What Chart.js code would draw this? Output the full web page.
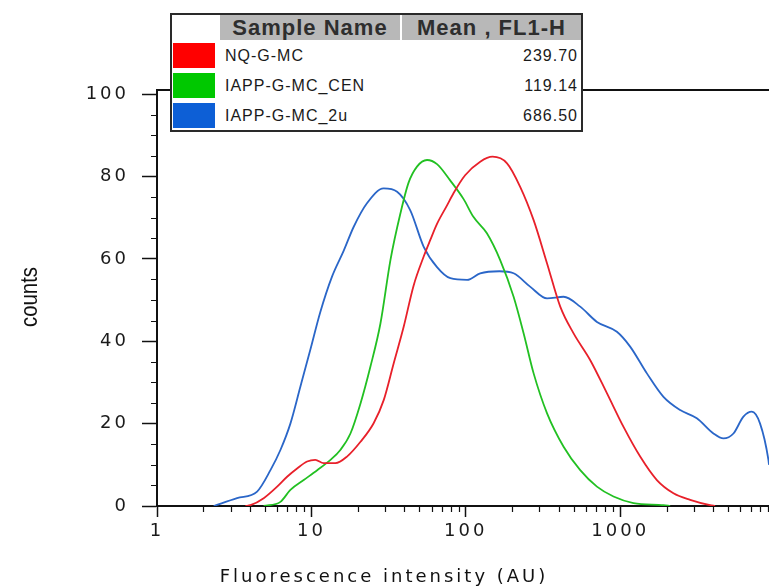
<!DOCTYPE html>
<html>
<head>
<meta charset="utf-8">
<script src="https://cdn.jsdelivr.net/npm/chart.js@4"></script>
<style>
  body { margin: 0; background: #fff; }
  #wrap { position: relative; width: 769px; height: 588px; }
  #legendBox { position: absolute; left: 170px; top: 13px; width: 409px; height: 115px; border: 2px solid #2a2a2a; background: #fff; font-family: 'Liberation Sans', Arial, sans-serif; color: #1a1a1a; }
  .hd { position: absolute; top: 0; height: 25px; line-height: 26px; background: #b8b8b8; font-weight: bold; font-size: 22px; letter-spacing: 1px; text-align: center; color: #2e2e2e; white-space: nowrap; }
  .sw { position: absolute; left: 1px; width: 42px; height: 25px; }
  .nm { position: absolute; left: 53px; height: 25px; line-height: 25px; font-size: 16px; letter-spacing: 1px; white-space: nowrap; }
  .mv { position: absolute; right: 3px; height: 25px; line-height: 25px; font-size: 16px; letter-spacing: 1px; text-align: right; }
</style>
</head>
<body>
<div id="wrap">
  <canvas id="histo" width="769" height="588"></canvas>
  <div id="legendBox"></div>
</div>
<script>
// Muestras y medias (tabla de la leyenda)
const sampleNames = ['NQ-G-MC', 'IAPP-G-MC_CEN', 'IAPP-G-MC_2u'];
const meanFL1H = ['239.70', '119.14', '686.50'];
const sampleColors = ['#ff0000', '#00c800', '#0d5fd6'];
const lineColors = ['#e8202a', '#22c022', '#2a66c8'];

// NQ-G-MC (rojo)
const nqX = [3.74, 4.03, 4.91, 6.00, 6.96, 8.08, 9.38, 10.6, 12.0, 14.3, 17.0, 20.8, 25.3, 29.4, 34.1, 39.6, 45.9, 53.3, 58.9, 65.1, 75.6, 83.4, 99, 124, 149, 185, 225, 275, 336, 409, 499, 640, 820, 1051, 1347, 1728, 2213, 2839, 3824, 4120];
const nqY = [0, 0.2, 1.9, 4.7, 7.1, 9.1, 10.8, 11.2, 10.4, 10.4, 12, 15.6, 20.1, 25.7, 34.6, 43.5, 53.5, 60.5, 64.6, 68.5, 73, 76, 80.3, 83.6, 84.8, 83.2, 77.5, 69.4, 58.9, 48.4, 41.9, 35.4, 27.4, 19.2, 12, 6.3, 3.1, 1.5, 0.2, 0];

// IAPP-G-MC_CEN (verde)
const cenX = [4.91, 6.30, 7.31, 8.92, 10.9, 13.3, 15.4, 17.9, 20.8, 24.1, 28.0, 32.5, 37.7, 42.6, 48.3, 56.1, 65.1, 79.4, 96.8, 112, 137, 167, 204, 237, 275, 336, 430, 551, 707, 905, 1219, 1907, 2107];
const cenY = [0, 1, 3.9, 6.3, 8.7, 11.2, 13.6, 17.6, 24.9, 33.8, 44.3, 59.7, 71, 78.5, 82.4, 84, 83, 79, 74.5, 70.2, 66.2, 59.7, 50.8, 41.9, 32.2, 22.5, 14.4, 8.7, 4.7, 2.3, 0.7, 0.2, 0];

// IAPP-G-MC_2u (azul)
const twoUX = [2.33, 3.30, 4.45, 5.43, 6.30, 7.31, 8.49, 9.85, 11.4, 13.6, 16.2, 18.8, 22.9, 29.4, 35.9, 43.7, 53.3, 65.1, 79.4, 102, 124, 165, 204, 262, 336, 430, 551, 707, 952, 1160, 1489, 1907, 2445, 3136, 4017, 4664, 5413, 6283, 7119, 8054, 9120, 9200];
const twoUY = [0, 1.9, 3.5, 8.7, 13.6, 20, 29, 38, 47, 55.7, 62, 67.8, 73.5, 77.1, 76.3, 71.8, 63, 58, 55.3, 54.9, 56.5, 57, 56.5, 53.2, 50.4, 50.8, 48.4, 44.7, 42.3, 38.7, 32.2, 26.5, 23.3, 21.3, 17.6, 16.4, 17.6, 21.7, 22.9, 20, 11.2, 10];

// Marcas y titulos de los ejes
const xMajor = [1, 10, 100, 1000];
const yMajor = [0, 20, 40, 60, 80, 100];
const xMax = 9200;
const yMax = 101;
const xTitle = 'Fluorescence intensity (AU)';
const yTitle = 'counts';

const xMinor = [];
[1, 10, 100, 1000].forEach(d => { for (let m = 2; m <= 9; m++) if (m * d <= xMax) xMinor.push(m * d); });
const yMinor = [];
for (let v = 5; v < 100; v += 5) if (v % 20 !== 0) yMinor.push(v);

// Tabla de la leyenda como texto HTML
const box = document.getElementById('legendBox');
box.innerHTML =
  '<div class="hd" style="left:48px;width:180px">Sample Name</div>' +
  '<div class="hd" style="left:230px;width:179px">Mean , FL1-H</div>' +
  sampleNames.map((n, i) => {
    const top = 28 + i * 30;
    return `<div class="sw" style="top:${top}px;background:${sampleColors[i]}"></div>` +
           `<div class="nm" style="top:${top}px">${n}</div>` +
           `<div class="mv" style="top:${top}px">${meanFL1H[i]}</div>`;
  }).join('');

const toPoints = (xs, ys) => xs.map((x, i) => ({ x: x, y: ys[i] }));

const axisFont = { family: '"DejaVu Sans", Verdana, sans-serif', size: 18 };

const frameTicks = {
  id: 'frameTicks',
  beforeUpdate(chart) { chart.ctx.letterSpacing = '3px'; },
  beforeDraw(chart) { chart.ctx.letterSpacing = '3px'; },
  afterDraw(chart) {
    const { ctx, chartArea: a, scales: { x, y } } = chart;
    ctx.save();
    ctx.strokeStyle = '#111';
    ctx.lineWidth = 1.2;
    ctx.beginPath();
    yMinor.forEach(v => {
      const py = Math.round(y.getPixelForValue(v)) + 0.5;
      ctx.moveTo(a.left - 6, py);
      ctx.lineTo(a.left, py);
    });
    xMinor.forEach(v => {
      const px = Math.round(x.getPixelForValue(v)) + 0.5;
      ctx.moveTo(px, a.bottom);
      ctx.lineTo(px, a.bottom + 6);
    });
    ctx.stroke();
    // borde superior del marco
    ctx.lineWidth = 2;
    ctx.beginPath();
    ctx.moveTo(a.left, a.top);
    ctx.lineTo(a.right, a.top);
    ctx.stroke();
    // titulo del eje x, centrado en la figura
    ctx.fillStyle = '#111';
    ctx.font = '18px "DejaVu Sans", Verdana, sans-serif';
    ctx.textAlign = 'center';
    ctx.textBaseline = 'middle';
    ctx.letterSpacing = '3px';
    ctx.fillText(xTitle, 384, 577);
    // titulo del eje y, estrecho
    ctx.letterSpacing = '0px';
    ctx.translate(30, 297);
    ctx.rotate(-Math.PI / 2);
    ctx.scale(0.85, 1);
    ctx.font = '24px "Liberation Sans", Arial, sans-serif';
    ctx.fillText(yTitle, 0, 0);
    ctx.restore();
    ctx.letterSpacing = '3px';
  }
};

new Chart(document.getElementById('histo').getContext('2d'), {
  type: 'line',
  data: {
    datasets: [
      { label: sampleNames[0], data: toPoints(nqX, nqY), borderColor: lineColors[0] },
      { label: sampleNames[1], data: toPoints(cenX, cenY), borderColor: lineColors[1] },
      { label: sampleNames[2], data: toPoints(twoUX, twoUY), borderColor: lineColors[2] }
    ]
  },
  options: {
    responsive: false,
    animation: false,
    layout: { padding: { top: 90, left: 0, right: 0, bottom: 0 } },
    elements: {
      point: { radius: 0 },
      line: { borderWidth: 1.8, cubicInterpolationMode: 'monotone', fill: false }
    },
    plugins: { legend: { display: false }, tooltip: { enabled: false } },
    scales: {
      x: {
        type: 'logarithmic',
        min: 1,
        max: xMax,
        afterBuildTicks: s => { s.ticks = xMajor.map(v => ({ value: v })); },
        afterFit: s => { s.height = 82; },
        grid: { display: true, drawOnChartArea: false, tickLength: 11, tickColor: '#111', tickWidth: 1.5 },
        border: { display: true, color: '#111', width: 2 },
        ticks: { autoSkip: false, maxRotation: 0, padding: 4, color: '#1a1a1a', font: axisFont, callback: v => String(v) }
      },
      y: {
        min: 0,
        max: yMax,
        afterBuildTicks: s => { s.ticks = yMajor.map(v => ({ value: v })); },
        afterFit: s => { s.width = 157; },
        grid: { display: true, drawOnChartArea: false, tickLength: 15, tickColor: '#111', tickWidth: 1.5 },
        border: { display: true, color: '#111', width: 2 },
        ticks: { padding: 13, color: '#1a1a1a', font: axisFont }
      }
    }
  },
  plugins: [frameTicks]
});
</script>
</body>
</html>
